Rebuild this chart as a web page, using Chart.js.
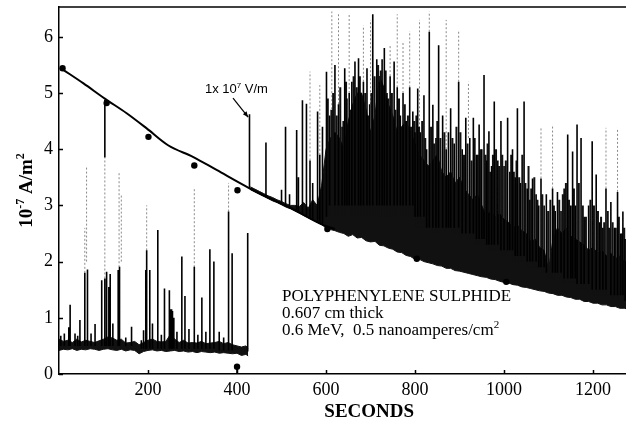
<!DOCTYPE html>
<html><head><meta charset="utf-8">
<script src="https://cdn.jsdelivr.net/npm/chart.js@4.4.1/dist/chart.umd.min.js"></script>
<style>html,body{margin:0;padding:0;background:#fff;overflow:hidden}#wrap{position:relative;width:626px;height:421px}</style>
</head><body><div id="wrap"><canvas id="c" width="626" height="421"></canvas></div>
<script>
// ---- axis ticks ----
const xTicks = [200, 400, 600, 800, 1000, 1200];
const yTicks = [0, 1, 2, 3, 4, 5, 6];

// ---- smooth fitted curve ----
const fitT = [8, 55, 103, 152, 197, 245, 302, 354, 429, 467, 519, 594, 620];
const fitV = [5.42, 5.17, 4.90, 4.64, 4.37, 4.07, 3.86, 3.63, 3.30, 3.15, 2.96, 2.65, 2.58];

// ---- measured points (dots) ----
const dotT = [8, 107, 201, 304, 401, 603, 804, 1005, 400];
const dotV = [5.44, 4.82, 4.22, 3.71, 3.27, 2.58, 2.05, 1.64, 0.13];

// ---- low-field trace band (0 - 425 s) ----
const lowT   = [0,10,20,30,40,50,60,70,80,90,100,110,120,130,140,150,160,170,180,190,200,210,220,230,240,250,260,270,280,290,300,310,320,330,340,350,360,370,380,390,400,410,420,425];
const lowBot = [0.42,0.44,0.43,0.45,0.42,0.44,0.43,0.45,0.44,0.42,0.44,0.45,0.43,0.42,0.44,0.41,0.43,0.42,0.36,0.40,0.42,0.43,0.41,0.42,0.40,0.41,0.42,0.40,0.41,0.39,0.40,0.38,0.40,0.39,0.38,0.39,0.37,0.38,0.37,0.36,0.37,0.33,0.35,0.32];
const lowTop = [0.62,0.58,0.60,0.56,0.62,0.57,0.60,0.58,0.56,0.59,0.62,0.66,0.64,0.60,0.62,0.55,0.56,0.58,0.52,0.56,0.60,0.62,0.58,0.57,0.58,0.70,0.62,0.56,0.60,0.55,0.56,0.55,0.58,0.54,0.55,0.56,0.58,0.54,0.56,0.52,0.50,0.48,0.50,0.46];

// ---- high-field trace band (430 - 1275 s) ----
const highT = [430,440,450,460,470,480,490,500,510,520,
  530,540,550,560,570,580,590,600,610,620,
  630,640,650,660,670,680,690,700,710,720,
  730,740,750,760,770,780,790,800,810,820,
  830,840,850,860,870,880,890,900,910,920,
  930,940,950,960,970,980,990,1000,1010,1020,
  1030,1040,1050,1060,1070,1080,1090,1100,1110,1120,
  1130,1140,1150,1160,1170,1180,1190,1200,1210,1220,
  1230,1240,1250,1260,1270,1275];
const highBot = [3.28,3.24,3.20,3.16,3.12,3.08,3.05,3.01,2.97,2.94,
  2.90,2.86,2.82,2.78,2.74,2.70,2.66,2.60,2.57,2.55,
  2.52,2.50,2.45,2.48,2.42,2.43,2.37,2.35,2.36,2.29,
  2.28,2.24,2.22,2.17,2.16,2.11,2.09,2.04,2.04,2.00,
  1.98,1.96,1.93,1.92,1.88,1.88,1.84,1.83,1.81,1.79,
  1.77,1.75,1.73,1.72,1.69,1.68,1.65,1.63,1.62,1.59,
  1.58,1.55,1.54,1.52,1.50,1.48,1.47,1.44,1.43,1.40,
  1.40,1.37,1.36,1.33,1.33,1.29,1.29,1.26,1.26,1.23,
  1.23,1.20,1.20,1.17,1.17,1.16];
const highTop = [3.33,3.29,3.25,3.21,3.17,3.14,3.10,3.07,3.03,3.00,
  3.00,2.98,3.05,2.95,3.10,3.00,3.35,4.00,4.20,4.30,
  4.20,4.00,4.50,4.80,5.00,5.00,4.70,4.30,4.60,5.30,
  5.10,4.80,4.60,4.30,4.40,4.50,4.30,4.10,3.90,3.80,
  3.70,3.80,3.90,3.60,3.50,3.60,3.40,3.50,3.30,3.20,
  3.10,3.20,3.00,2.80,2.90,2.80,2.85,2.75,2.70,2.60,
  2.65,2.55,2.50,2.35,2.40,2.25,2.20,1.85,2.40,2.60,
  2.50,2.60,2.45,2.40,2.35,2.30,2.20,2.25,2.15,2.20,
  2.10,2.15,2.05,2.10,2.00,2.00];

// ---- solid spikes: time, lower end, upper end ----
const spikeT  = [4,12,22,25,36,42,47,58,64,72,81,96,103,103,107,112,115,121,133,136,150,163,185,190,195,197,204,210,222,230,237,248,251,253,255,258,265,276,283,292,304,312,321,330,339,348,360,370,381,389,400,424,
  428,465,500,509,518,534,538,547,556,564,570,581,586,592,601,608,620,628,636,642,647,652,658,665,673,678,684,692,698,705,714,720,726,731,737,744,753,760,767,773,780,788,795,
  800,806,812,820,826,832,840,847,853,862,870,875,880,888,898,906,914,923,931,938,944,950,955,961,966,972,978,986,993,
  1000,1008,1013,1019,1025,1030,1037,1045,1052,1058,1064,1072,1078,1083,1090,1095,1109,1115,1120,1128,1135,1143,1150,1154,1160,1164,1173,1180,1190,1198,1207,1215,1222,1229,1240,1248,1255,1262,1267,1272];
const spikeLo = [0.5,0.5,0.5,0.5,0.5,0.5,0.5,0.5,0.5,0.5,0.5,0.5,0.5,3.85,0.5,0.5,0.5,0.5,0.5,0.5,0.5,0.5,0.45,0.45,0.45,0.45,0.45,0.45,0.45,0.45,0.45,0.45,0.45,0.45,0.45,0.45,0.45,0.45,0.45,0.45,0.45,0.45,0.45,0.45,0.45,0.45,0.42,0.42,0.42,0.42,0.02,0.4,
  3.30,3.15,3.02,2.98,2.95,2.90,2.88,2.84,2.80,2.78,2.76,2.70,2.68,2.66,2.8,3.0,3.0,3.0,3.0,3.0,3.0,3.0,3.0,3.0,3.0,3.0,3.0,3.0,3.0,3.0,3.0,3.0,3.0,3.0,3.0,3.0,3.0,3.0,3.0,3.0,3.0,3.0,3.0,
  2.8,2.8,2.8,2.8,2.6,2.6,2.6,2.6,2.6,2.6,2.6,2.6,2.6,2.6,2.6,2.5,2.5,2.5,2.5,2.4,2.4,2.4,2.4,2.3,2.3,2.3,2.3,2.3,2.2,
  2.2,2.2,2.2,2.2,2.1,2.1,2.1,2.1,2.0,2.0,2.0,2.0,1.9,1.9,1.9,1.8,1.8,1.8,1.8,1.8,1.7,1.7,1.7,1.7,1.7,1.6,1.6,1.6,1.6,1.5,1.5,1.5,1.5,1.5,1.4,1.4,1.4,1.4,1.4,1.3];
const spikeHi = [0.68,0.72,0.83,1.23,0.72,0.68,0.96,1.8,1.86,0.72,0.89,1.67,1.7,4.88,1.82,1.55,1.78,0.9,1.85,1.91,0.65,0.84,0.6,0.78,1.85,2.2,1.85,0.9,2.56,0.7,1.52,1.49,1.15,1.15,1.12,1.0,0.75,2.09,1.39,0.8,1.91,0.7,1.36,0.75,2.22,2.0,0.75,0.65,2.89,2.15,0.13,2.51,
  4.62,4.12,3.28,4.40,3.2,4.34,3.5,4.87,4.81,3.8,3.4,4.67,3.9,4.4,5.38,4.6,5.5,4.8,4.4,5.44,4.9,5.0,5.2,5.56,5.62,5.0,5.2,5.44,4.8,6.4,5.6,5.2,5.6,5.8,5.0,5.3,5.56,5.1,4.6,5.0,4.5,5.1,4.67,
  4.3,5.08,4.3,4.96,4.0,6.09,4.79,4.2,5.85,4.6,4.0,4.3,4.73,4.1,5.2,4.0,4.56,4.2,4.56,3.9,4.44,4.0,5.32,3.8,4.32,3.7,4.85,3.8,4.5,
  3.7,4.56,3.6,4.0,3.5,4.73,3.4,4.85,3.3,3.1,3.48,3.2,3.0,3.48,3.0,3.2,3.3,2.9,3.24,2.9,3.3,4.26,3.0,3.96,3.0,4.44,4.2,2.8,3.0,4.14,3.55,2.7,2.6,3.3,3.06,2.6,3.24,2.5,2.89,2.4];

// ---- dense burst of thinner spikes in the high-field region ----
const burstT  = [604,612,616,624,632,639,645,656,662,669,676,681,688,695,702,709,717,723,734,740,748,756,764,770,777,784,791,798,
  803,809,816,823,836,843,850,857,866,884,893,902,910,918,927,934,941,947,958,963,969,975,982,989,996,
  1004,1016,1022,1028,1034,1041,1048,1055,1061,1068,1075,1086,1099,1104,1112,1124,1132,1139,1146,1157,1168,1177,1184,1194,
  1202,1211,1218,1225,1233,1236,1244,1251,1258,1265,1270];
const burstLo = [2.8,2.8,2.8,2.8,2.8,2.8,2.8,2.8,2.8,2.8,2.8,2.8,2.8,2.8,2.8,2.8,2.8,2.8,2.8,2.8,2.8,2.8,2.8,2.8,2.8,2.8,2.8,2.8,
  2.6,2.6,2.6,2.6,2.5,2.5,2.5,2.5,2.5,2.5,2.5,2.4,2.4,2.4,2.4,2.3,2.3,2.3,2.3,2.2,2.2,2.2,2.2,2.2,2.1,
  2.1,2.1,2.0,2.0,2.0,2.0,2.0,1.9,1.9,1.9,1.9,1.8,1.7,1.7,1.7,1.7,1.6,1.6,1.6,1.6,1.5,1.5,1.5,1.5,
  1.4,1.4,1.4,1.4,1.4,1.4,1.3,1.3,1.3,1.3,1.3];
const burstHi = [4.9,4.7,5.0,4.6,5.1,4.5,5.2,4.7,5.3,5.1,5.3,4.9,5.0,4.6,5.0,5.3,5.5,5.4,5.4,4.9,5.0,4.7,4.9,4.4,4.8,4.6,4.4,4.5,
  4.6,4.4,4.5,4.2,4.4,4.1,4.5,4.2,4.3,4.2,4.4,4.3,3.9,4.1,3.8,4.2,3.9,4.0,3.9,4.1,3.6,3.9,4.0,3.7,3.9,
  3.8,3.9,3.6,3.8,3.5,3.9,3.4,3.7,3.3,3.5,3.1,3.2,2.9,3.1,3.0,3.1,3.2,3.4,3.1,3.3,3.4,3.0,2.8,3.1,
  3.0,2.9,2.8,2.7,2.9,2.6,2.7,2.6,2.8,2.5,2.6];

// ---- faint (dotted) spike extensions ----
const faintT  = [58,62,103,135,140,197,304,381,564,586,613,628,652,684,700,744,760,773,788,810,832,870,898,920,1083,1109,1229,1255];
const faintLo = [1.8,2.0,1.7,1.9,2.0,2.2,1.9,2.89,3.8,3.9,4.0,4.8,5.0,5.2,4.8,5.3,5.1,5.0,5.1,4.3,6.09,4.0,5.2,4.2,3.48,3.3,3.3,3.24];
const faintHi = [2.6,3.7,3.85,3.6,3.2,3.0,3.3,3.4,5.38,5.14,6.45,6.4,6.4,6.2,6.3,5.85,6.4,5.9,6.1,6.3,6.45,6.3,6.09,5.2,4.38,4.44,4.38,4.38];

// ---- texts ----
const xTitle = 'SECONDS';
const yTitleParts = [['10', false], ['-7', true], [' A/m', false], ['2', true]];
const fieldLabelParts = [['1x 10', false], ['7', true], [' V/m', false]];
const noteLines = [
  [['POLYPHENYLENE SULPHIDE', false]],
  [['0.607 cm thick', false]],
  [['0.6 MeV,  0.5 nanoamperes/cm', false], ['2', true]]
];

// layout constants (not data)
const X_MAX = 1274, Y_MAX = 6.53;
const SERIF = '"Liberation Serif", "Times New Roman", serif';

function pts(ts, vs) { return ts.map((t, i) => ({x: t, y: vs[i]})); }
function segs(ts, lo, hi) { return ts.flatMap((t, i) => [{x: t, y: lo[i]}, {x: t, y: hi[i]}, {x: t, y: null}]); }

function richWidth(ctx, parts, size, weight, fam) {
  let w = 0;
  for (const [s, sup] of parts) { ctx.font = weight + ' ' + (sup ? Math.round(size * 0.65) : size) + 'px ' + fam; w += ctx.measureText(s).width; }
  return w;
}
function drawRich(ctx, parts, x, y, size, weight, fam) {
  let cx = x;
  ctx.textBaseline = 'alphabetic'; ctx.textAlign = 'left';
  for (const [s, sup] of parts) {
    ctx.font = weight + ' ' + (sup ? Math.round(size * 0.65) : size) + 'px ' + fam;
    ctx.fillText(s, cx, sup ? y - size * 0.42 : y);
    cx += ctx.measureText(s).width;
  }
}

const decor = {
  id: 'decor',
  afterDraw(chart) {
    const {ctx, chartArea: a, scales: {x, y}} = chart;
    ctx.save();
    ctx.fillStyle = '#000'; ctx.strokeStyle = '#000';
    ctx.lineWidth = 1.5;
    ctx.beginPath(); ctx.moveTo(a.left, a.top); ctx.lineTo(a.right, a.top); ctx.stroke();
    for (const v of xTicks) { const px = Math.round(x.getPixelForValue(v)) + 0.5; ctx.beginPath(); ctx.moveTo(px, a.bottom); ctx.lineTo(px, a.bottom - 4); ctx.stroke(); }
    for (const v of yTicks) { const py = Math.round(y.getPixelForValue(v)) + 0.5; ctx.beginPath(); ctx.moveTo(a.left, py); ctx.lineTo(a.left + 4, py); ctx.stroke(); }
    ctx.font = 'bold 19px ' + SERIF; ctx.textAlign = 'center'; ctx.textBaseline = 'alphabetic';
    ctx.fillText(xTitle, x.getPixelForValue(697), 417);
    ctx.save();
    ctx.translate(32, (a.top + a.bottom) / 2);
    ctx.rotate(-Math.PI / 2);
    const yw = richWidth(ctx, yTitleParts, 19, 'bold', SERIF);
    drawRich(ctx, yTitleParts, -yw / 2, 0, 19, 'bold', SERIF);
    ctx.restore();
    drawRich(ctx, fieldLabelParts, x.getPixelForValue(328), y.getPixelForValue(5.0), 13, 'normal', '"Liberation Sans", Arial, sans-serif');
    const x1 = x.getPixelForValue(391), y1 = y.getPixelForValue(4.91);
    const x2 = x.getPixelForValue(425), y2 = y.getPixelForValue(4.57);
    ctx.lineWidth = 1.2;
    ctx.beginPath(); ctx.moveTo(x1, y1); ctx.lineTo(x2, y2); ctx.stroke();
    const ang = Math.atan2(y2 - y1, x2 - x1);
    ctx.beginPath();
    ctx.moveTo(x2, y2);
    ctx.lineTo(x2 - 6 * Math.cos(ang - 0.4), y2 - 6 * Math.sin(ang - 0.4));
    ctx.lineTo(x2 - 6 * Math.cos(ang + 0.4), y2 - 6 * Math.sin(ang + 0.4));
    ctx.closePath(); ctx.fill();
    const nx = x.getPixelForValue(501), ny = y.getPixelForValue(1.30);
    noteLines.forEach((ln, i) => drawRich(ctx, ln, nx, ny + i * 17, 17, 'normal', SERIF));
    ctx.restore();
  }
};

new Chart(document.getElementById('c'), {
  type: 'line',
  data: {
    datasets: [
      {label: 'measured', data: pts(dotT, dotV), showLine: false, pointRadius: 3.2, pointBackgroundColor: '#000', pointBorderColor: '#000', pointBorderWidth: 0, order: 1},
      {label: 'fit', data: pts(fitT, fitV), borderColor: '#000', borderWidth: 2, pointRadius: 0, cubicInterpolationMode: 'monotone', fill: false, order: 2},
      {label: 'spikes', data: segs(spikeT, spikeLo, spikeHi), borderColor: '#000', borderWidth: 1.6, pointRadius: 0, spanGaps: false, fill: false, order: 3},
      {label: 'lowBot', data: pts(lowT, lowBot), borderColor: '#111', borderWidth: 1, pointRadius: 0, fill: false, order: 4},
      {label: 'lowTop', data: pts(lowT, lowTop), borderColor: '#111', borderWidth: 1, pointRadius: 0, fill: '-1', backgroundColor: '#111', order: 4},
      {label: 'highBot', data: pts(highT, highBot), borderColor: '#111', borderWidth: 1, pointRadius: 0, fill: false, order: 4},
      {label: 'highTop', data: pts(highT, highTop), borderColor: '#111', borderWidth: 1, pointRadius: 0, fill: '-1', backgroundColor: '#111', order: 4},
      {label: 'faint', data: segs(faintT, faintLo, faintHi), borderColor: '#8a8a8a', borderWidth: 1, borderDash: [2, 2], pointRadius: 0, spanGaps: false, fill: false, order: 6},
      {label: 'burst', data: segs(burstT, burstLo, burstHi), borderColor: '#111', borderWidth: 2, pointRadius: 0, spanGaps: false, fill: false, order: 3}
    ]
  },
  options: {
    responsive: false, animation: false, devicePixelRatio: 1,
    layout: {autoPadding: false, padding: {top: 7, right: 0, left: 0, bottom: 0}},
    plugins: {legend: {display: false}, tooltip: {enabled: false}},
    elements: {line: {tension: 0}},
    scales: {
      x: {
        type: 'linear', min: 0, max: X_MAX, offset: false,
        grid: {display: false, drawTicks: false},
        border: {display: true, color: '#000', width: 1.5},
        ticks: {color: '#000', font: {family: SERIF, size: 18}, padding: 5, maxRotation: 0, callback: v => String(v)},
        afterBuildTicks: s => { s.ticks = xTicks.map(v => ({value: v})); },
        afterFit: s => { s.height = 47; s.paddingLeft = 0; s.paddingRight = 0; }
      },
      y: {
        type: 'linear', min: 0, max: Y_MAX,
        grid: {display: false, drawTicks: false},
        border: {display: true, color: '#000', width: 1.5},
        ticks: {color: '#000', font: {family: SERIF, size: 18}, padding: 6, callback: v => String(v)},
        afterBuildTicks: s => { s.ticks = yTicks.map(v => ({value: v})); },
        afterFit: s => { s.width = 59; s.paddingTop = 0; s.paddingBottom = 0; }
      }
    }
  },
  plugins: [decor]
});
</script>
</body></html>
